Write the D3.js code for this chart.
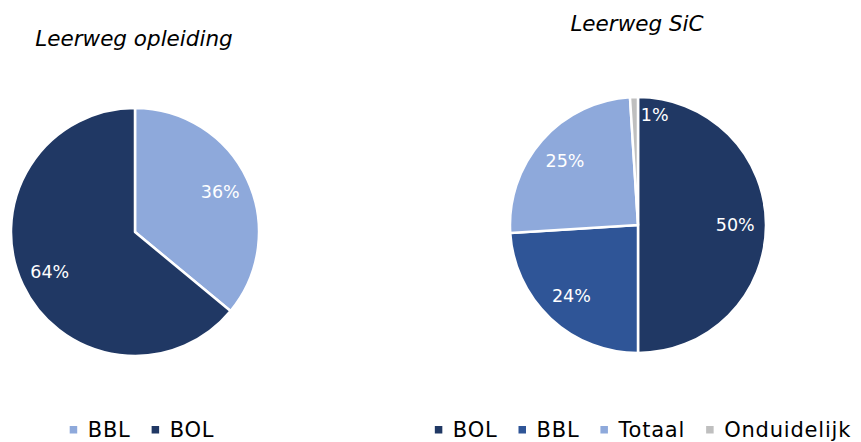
<!DOCTYPE html>
<html>
<head>
<meta charset="utf-8">
<script src="https://cdn.jsdelivr.net/npm/d3@7"></script>
<style>
  body { margin: 0; background: #fff; }
  svg text { font-family: "DejaVu Sans", sans-serif; }
</style>
</head>
<body>
<div id="chart"></div>
<script>
// data
const opleidingLabels = ["BBL", "BOL"];
const opleidingValues = [36, 64];
const opleidingColors = ["#8EA9DB", "#203864"];

const sicLabels = ["BOL", "BBL", "Totaal", "Onduidelijk"];
const sicValues = [50, 24, 25, 1];
const sicColors = ["#203864", "#2F5597", "#8EA9DB", "#BFBFBF"];

const W = 861, H = 442;
const svg = d3.select("#chart").append("svg")
    .attr("width", W).attr("height", H);

// draw one pie with its title and legend
function drawPie(cfg) {
    const data = cfg.labels.map((l, i) => ({ label: l, value: cfg.values[i], color: cfg.colors[i] }));
    const pie = d3.pie().sort(null).value(d => d.value);
    const arcs = pie(data);
    const arc = d3.arc().innerRadius(0).outerRadius(cfg.r);
    const labelArc = d3.arc().innerRadius(cfg.r * 0.76).outerRadius(cfg.r * 0.76);

    const g = svg.append("g").attr("transform", `translate(${cfg.cx},${cfg.cy})`);
    g.selectAll("path").data(arcs).enter().append("path")
        .attr("d", arc)
        .attr("fill", d => d.data.color)
        .attr("stroke", "#fff")
        .attr("stroke-width", 2.5)
        .attr("stroke-linejoin", "round");

    g.selectAll("text.lbl").data(arcs).enter().append("text")
        .attr("class", "lbl")
        .attr("transform", d => {
            let c;
            if (d.endAngle - d.startAngle < 0.15) {
                // tiny slice: label sits just past the top, inside next slice
                c = d3.arc().innerRadius(cfg.r * 0.87).outerRadius(cfg.r * 0.87)
                    .centroid({ startAngle: d.endAngle + 0.15, endAngle: d.endAngle + 0.15 });
            } else {
                c = labelArc.centroid(d);
            }
            return `translate(${c[0]},${c[1]})`;
        })
        .attr("text-anchor", "middle")
        .attr("dy", "0.36em")
        .attr("fill", "#fff")
        .attr("font-size", 17.5)
        .text(d => d.data.value + "%");

    svg.append("text")
        .attr("x", cfg.titleX).attr("y", cfg.titleY)
        .attr("text-anchor", "middle")
        .attr("font-size", 21.5)
        .attr("font-style", "italic")
        .attr("fill", "#000")
        .text(cfg.title);

    // legend, items chained left to right
    const lg = svg.append("g");
    let x = 0;
    data.forEach(d => {
        lg.append("rect")
            .attr("x", x).attr("y", -11)
            .attr("width", 7.5).attr("height", 7.5)
            .attr("fill", d.color);
        const t = lg.append("text")
            .attr("x", x + 18).attr("y", 0)
            .attr("font-size", 21)
            .attr("letter-spacing", 0.8)
            .attr("fill", "#000")
            .text(d.label);
        x += 18 + t.node().getComputedTextLength() + 21;
    });
    const lw = x - 21;
    lg.attr("transform", `translate(${cfg.legendCx - lw / 2},${cfg.legendY})`);
}

drawPie({
    labels: opleidingLabels, values: opleidingValues, colors: opleidingColors,
    cx: 135, cy: 232, r: 124,
    title: "Leerweg opleiding", titleX: 134, titleY: 46,
    legendCx: 142, legendY: 437
});

drawPie({
    labels: sicLabels, values: sicValues, colors: sicColors,
    cx: 638, cy: 225, r: 128,
    title: "Leerweg SiC", titleX: 637, titleY: 31,
    legendCx: 643, legendY: 437
});
</script>
</body>
</html>
